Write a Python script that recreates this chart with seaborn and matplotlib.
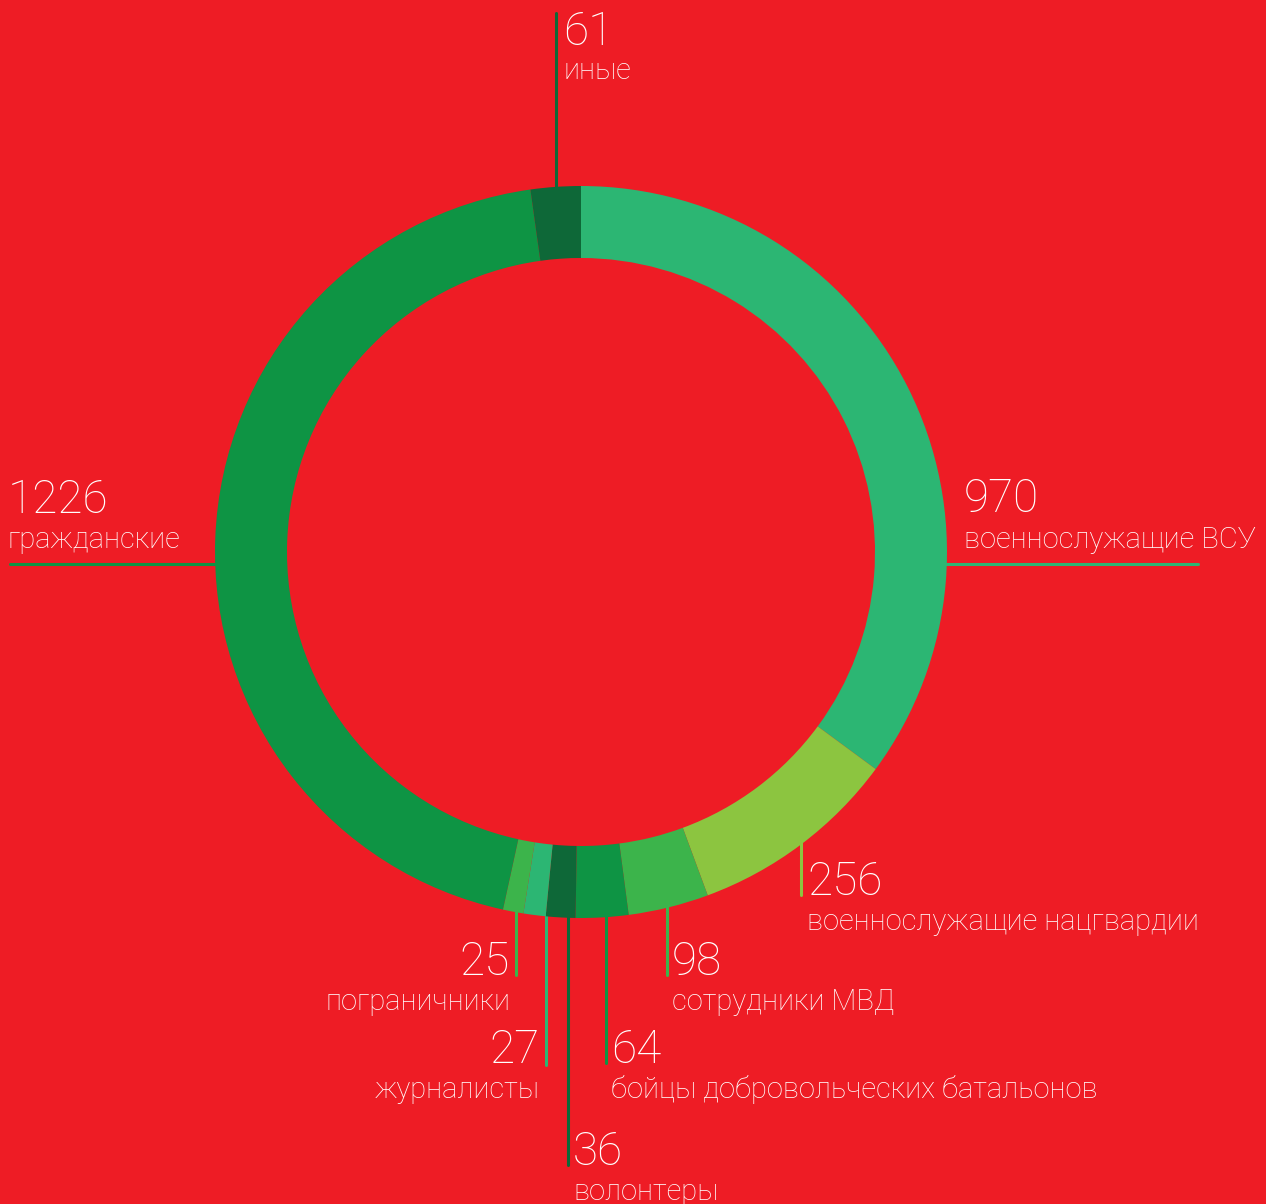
import numpy as np
import seaborn as sns
import matplotlib.pyplot as plt

# data, clockwise from the top
labels = ["военнослужащие ВСУ", "военнослужащие нацгвардии", "сотрудники МВД",
          "бойцы добровольческих батальонов", "волонтеры", "журналисты",
          "пограничники", "гражданские", "иные"]
values = [970, 256, 98, 64, 36, 27, 25, 1226, 61]
colors = ["#2cb673", "#8cc540", "#3cb44b", "#0e9444", "#0e6838",
          "#2cb673", "#3cb44b", "#0e9444", "#0e6838"]

W, H = 1266, 1204
bg = "#ee1c25"

sns.set_theme(style="white")
plt.rcParams["font.family"] = ["Roboto", "DejaVu Sans"]
plt.rcParams["font.weight"] = "light"

fig = plt.figure(figsize=(W / 100, H / 100), dpi=100, facecolor=bg)
ax = fig.add_axes([0, 0, 1, 1])
ax.set_facecolor(bg)

cx, cy, R, ring = 581, H - 552, 366, 72
ax.pie(values, colors=colors, startangle=90, counterclock=False,
       center=(cx, cy), radius=R,
       wedgeprops=dict(width=ring, edgecolor="none"))
ax.set_xlim(0, W)
ax.set_ylim(0, H)
ax.set_aspect("auto")
ax.axis("off")


def ring_y(x, top=False):
    d = np.sqrt(R ** 2 - (x - cx) ** 2)
    return cy + d if top else cy - d


# label layout in image pixel coords: (line x, line end y, text x, ha, number baseline)
layout = {
    "военнослужащие нацгвардии": (801, 895, 807, "left", 895),
    "сотрудники МВД": (667, 975, 672, "left", 975),
    "бойцы добровольческих батальонов": (606, 1063, 611, "left", 1063),
    "волонтеры": (568, 1165, 573, "left", 1165),
    "журналисты": (546, 1065, 540, "right", 1063),
    "пограничники": (516, 975, 510, "right", 975),
}

num_size, lab_size = 33, 21
tk = dict(color="white", va="baseline", fontweight="light")

for lab, val, col in zip(labels, values, colors):
    if lab in layout:
        lx, ly, tx, ha, base = layout[lab]
        ax.plot([lx, lx], [ring_y(lx) + 4, H - ly], color=col, lw=2.2, zorder=0)
        ax.text(tx, H - base, str(val), fontsize=num_size, ha=ha, **tk)
        ax.text(tx, H - base - 35, lab, fontsize=lab_size, ha=ha, **tk)

# top label
col = colors[labels.index("иные")]
ax.plot([556, 556], [H - 13, ring_y(556, top=True) - 4], color=col, lw=2.2, zorder=0)
ax.text(563, H - 45, "61", fontsize=num_size, **tk)
ax.text(563, H - 79, "иные", fontsize=lab_size, **tk)

# side labels
ax.plot([10, cx - R + 6], [H - 564, H - 564], color=colors[7], lw=2.2, zorder=0)
ax.text(8, H - 513, "1226", fontsize=num_size, **tk)
ax.text(8, H - 548, "гражданские", fontsize=lab_size, **tk)

ax.plot([cx + R - 6, 1198], [H - 564, H - 564], color=colors[0], lw=2.2, zorder=0)
ax.text(964, H - 512, "970", fontsize=num_size, **tk)
ax.text(964, H - 548, "военнослужащие ВСУ", fontsize=lab_size, **tk)

fig.savefig("out.png", dpi=100, facecolor=bg)
